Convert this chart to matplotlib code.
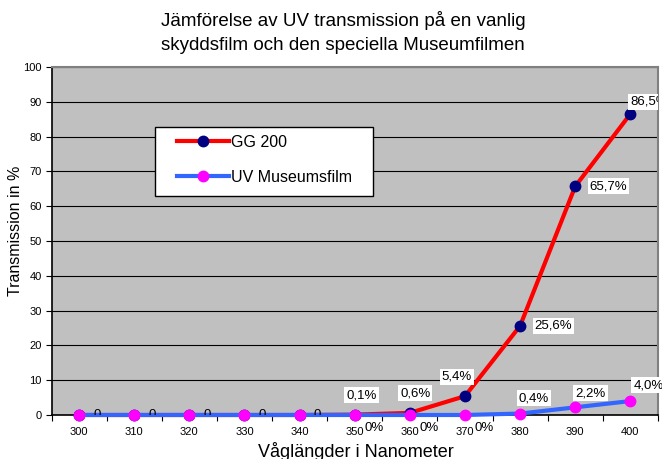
import matplotlib
matplotlib.use("Agg")
import matplotlib.pyplot as plt
from matplotlib.lines import Line2D
from matplotlib.patches import Rectangle

plt.rcParams['font.family'] = ['Liberation Sans', 'DejaVu Sans']

wavelengths = [300, 310, 320, 330, 340, 350, 360, 370, 380, 390, 400]
gg200 = [0, 0, 0, 0, 0, 0.1, 0.6, 5.4, 25.6, 65.7, 86.5]
uv_museum = [0, 0, 0, 0, 0, 0, 0, 0, 0.4, 2.2, 4.0]
gg_labels = ["0", "0", "0", "0", "0", "0,1%", "0,6%", "5,4%", "25,6%", "65,7%", "86,5%"]
uv_labels = ["", "", "", "", "", "0%", "0%", "0%", "0,4%", "2,2%", "4,0%"]
yticks = [0, 10, 20, 30, 40, 50, 60, 70, 80, 90, 100]

fig = plt.figure(figsize=(6.62, 4.59), dpi=100)
ax = fig.add_axes([0.0778, 0.0959, 0.916, 0.758])
ax.set_facecolor('#C0C0C0')

x = list(range(len(wavelengths)))
ax.plot(x, gg200, color='#FF0000', lw=3, marker='o', ms=7.5,
        mfc='#000080', mec='#000080', zorder=3, clip_on=False)
ax.plot(x, uv_museum, color='#3366FF', lw=3, marker='o', ms=7.5,
        mfc='#FF00FF', mec='#FF00FF', zorder=4, clip_on=False)

ax.set_xlim(-0.5, len(x) - 0.5)
ax.set_ylim(0, 100)
ax.set_yticks(yticks)
ax.set_yticklabels([str(v) for v in yticks], fontsize=8)
ax.set_xticks([i - 0.5 for i in range(len(x) + 1)])
ax.set_xticklabels([])
ax.set_xticks(x, minor=True)
ax.set_xticklabels([str(w) for w in wavelengths], minor=True, fontsize=8)
ax.tick_params(axis='x', which='minor', length=0, pad=9)
ax.tick_params(axis='x', which='major', length=4, direction='out', color='black')
ax.tick_params(axis='y', length=4, direction='out', pad=3)
ax.grid(axis='y', color='black', lw=0.8)
ax.set_axisbelow(True)

for s in ['top', 'right']:
    ax.spines[s].set_color('#808080')
    ax.spines[s].set_linewidth(1.5)
for s in ['left', 'bottom']:
    ax.spines[s].set_color('black')
    ax.spines[s].set_linewidth(1.2)

box = dict(boxstyle='square,pad=0.15', fc='white', ec='none')
gg_off = {0: (13, 0), 1: (13, 0), 2: (13, 0), 3: (13, 0), 4: (13, 0),
          5: (5, 14), 6: (4, 14), 7: (-6, 14), 8: (24, 0), 9: (24, 0), 10: (0, 9)}
for i, lab in enumerate(gg_labels):
    dx, dy = gg_off[i]
    kw = dict(ha='center', va='center')
    bb = None if i < 5 else box
    if i == 10:
        kw = dict(ha='left', va='center')
    ax.annotate(lab, (x[i], gg200[i]), xytext=(dx, dy), textcoords='offset points',
                fontsize=9.5, bbox=bb, zorder=6, clip_on=True, annotation_clip=False, **kw)

uv_off = {5: (14, -9.5), 6: (14, -9.5), 7: (14, -9.5), 8: (10, 11), 9: (11, 10), 10: (13, 11.5)}
for i, lab in enumerate(uv_labels):
    if not lab:
        continue
    dx, dy = uv_off[i]
    bb = None if i in (5, 6, 7) else box
    ax.annotate(lab, (x[i], uv_museum[i]), xytext=(dx, dy), textcoords='offset points',
                fontsize=9.5, ha='center', va='center', bbox=bb, zorder=6,
                annotation_clip=False)

# legend frame
ax.add_patch(Rectangle((0.1707, 0.629), 0.3594, 0.198, transform=ax.transAxes,
                       facecolor='white', edgecolor='black', lw=1, zorder=7))
handles = [
    Line2D([], [], color='#FF0000', lw=3, marker='o', ms=7.5, mfc='#000080', mec='#000080'),
    Line2D([], [], color='#3366FF', lw=3, marker='o', ms=7.5, mfc='#FF00FF', mec='#FF00FF'),
]
leg = ax.legend(handles, ['GG 200', 'UV Museumsfilm'], loc='upper left',
                bbox_to_anchor=(0.207, 0.805), frameon=False,
                fontsize=11.5, handlelength=3.25, handletextpad=0.1,
                labelspacing=1.25, borderpad=0, borderaxespad=0)
leg.set_zorder(8)

fig.text(0.518, 0.955, 'Jämförelse av UV transmission på en vanlig', ha='center', va='center', fontsize=13.5)
fig.text(0.518, 0.901, 'skyddsfilm och den speciella Museumfilmen', ha='center', va='center', fontsize=13.5)
fig.text(0.0227, 0.497, 'Transmission in %', rotation=90, ha='center', va='center', fontsize=11.5)
fig.text(0.538, 0.0044, 'Våglängder i Nanometer', ha='center', va='baseline', fontsize=13)

fig.savefig('out.png', dpi=100)
